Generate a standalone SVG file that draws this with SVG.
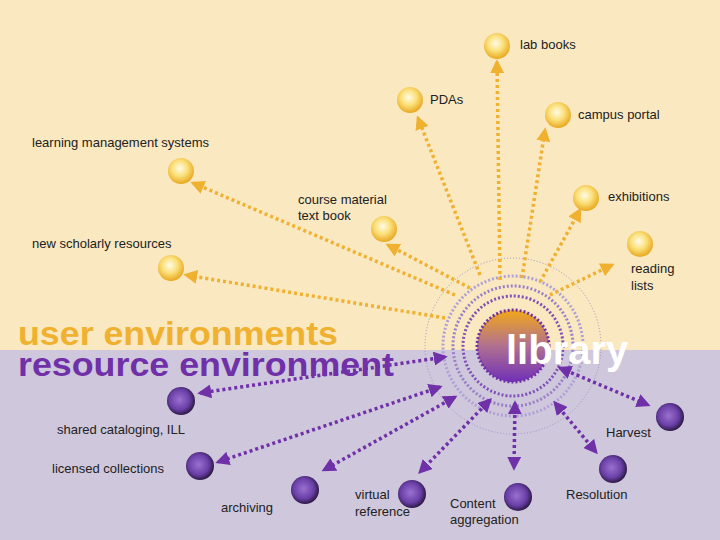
<svg xmlns="http://www.w3.org/2000/svg" width="720" height="540" viewBox="0 0 720 540">
<defs>
<radialGradient id="yg" cx="0.45" cy="0.4" r="0.6"><stop offset="0" stop-color="#fffbe8"/><stop offset="0.5" stop-color="#fbe07a"/><stop offset="1" stop-color="#e8a820"/></radialGradient>
<radialGradient id="pg" cx="0.45" cy="0.45" r="0.6"><stop offset="0" stop-color="#9a70d0"/><stop offset="0.6" stop-color="#6a40a8"/><stop offset="1" stop-color="#20102e"/></radialGradient>
<linearGradient id="lg" x1="0" y1="0" x2="0" y2="1"><stop offset="0" stop-color="#f2a818"/><stop offset="0.5" stop-color="#b07090"/><stop offset="1" stop-color="#7030b8"/></linearGradient>
<marker id="ay" viewBox="0 0 10 10" refX="8" refY="5" markerWidth="4" markerHeight="4" orient="auto-start-reverse"><path d="M0,0L10,5L0,10z" fill="#f0b030"/></marker>
<marker id="ap" viewBox="0 0 10 10" refX="8" refY="5" markerWidth="4" markerHeight="4" orient="auto-start-reverse"><path d="M0,0L10,5L0,10z" fill="#7030a8"/></marker>
<style>
.t{font-family:"Liberation Sans",Arial,sans-serif;font-size:13px;fill:#222}
.y{stroke:#f0b030;stroke-width:3.5;stroke-dasharray:3 3;fill:none;marker-end:url(#ay)}
.p{stroke:#7030a8;stroke-width:3.5;stroke-dasharray:3 3;fill:none;marker-end:url(#ap);marker-start:url(#ap)}
.yn{fill:url(#yg)}
.pn{fill:url(#pg)}
</style>
</defs>
<rect width="720" height="350" fill="#f9e8c0"/>
<rect y="350" width="720" height="190" fill="#cfc7dc"/>
<g id="rings" fill="none">
<circle cx="513" cy="346" r="88" stroke="#a090c8" stroke-width="1" stroke-dasharray="1 2"/>
<circle cx="513" cy="346" r="70" stroke="#b0a0d8" stroke-width="3" stroke-dasharray="2 2"/>
<circle cx="513" cy="346" r="60" stroke="#9a80c8" stroke-width="3" stroke-dasharray="2 2"/>
<circle cx="513" cy="346" r="50" stroke="#8050b8" stroke-width="3" stroke-dasharray="2 2"/>
</g>
<g id="connectors">
<path class="y" d="M500,280L497,62"/>
<path class="y" d="M480,275L418,118"/>
<path class="y" d="M522,278L545,130"/>
<path class="y" d="M455,295L193,183"/>
<path class="y" d="M470,288L388,245"/>
<path class="y" d="M540,282L580,210"/>
<path class="y" d="M445,318L186,275"/>
<path class="y" d="M550,295L612,265"/>
<path class="p" d="M445,357L200,393"/>
<path class="p" d="M440,387L218,462"/>
<path class="p" d="M455,397L324,470"/>
<path class="p" d="M490,400L420,472"/>
<path class="p" d="M515,403L514,468"/>
<path class="p" d="M555,403L596,452"/>
<path class="p" d="M560,368L648,405"/>
</g>
<g id="library">
<circle cx="513" cy="346" r="36" fill="url(#lg)" stroke="#7030a8" stroke-width="3" stroke-dasharray="2 2"/>
<text x="506" y="364" font-family="Liberation Sans,Arial,sans-serif" font-weight="bold" font-size="40" fill="#fff">library</text>
</g>
<g id="titles" font-family="Liberation Sans,Arial,sans-serif" font-weight="bold" font-size="33">
<text x="18" y="345" fill="#f0b030" textLength="320" lengthAdjust="spacingAndGlyphs">user environments</text>
<text x="18" y="376" fill="#7030a8" textLength="376" lengthAdjust="spacingAndGlyphs">resource environment</text>
</g>
<g id="lab-books"><circle class="yn" cx="497" cy="46" r="13"/><text class="t" x="520" y="49">lab books</text></g>
<g id="pdas"><circle class="yn" cx="410" cy="100" r="13"/><text class="t" x="430" y="104">PDAs</text></g>
<g id="campus-portal"><circle class="yn" cx="558" cy="115" r="13"/><text class="t" x="578" y="119">campus portal</text></g>
<g id="lms"><circle class="yn" cx="181" cy="171" r="13"/><text class="t" x="32" y="147">learning management systems</text></g>
<g id="course-material"><circle class="yn" cx="384" cy="229" r="13"/><text class="t" x="298" y="204">course material</text><text class="t" x="298" y="220">text book</text></g>
<g id="exhibitions"><circle class="yn" cx="586" cy="198" r="13"/><text class="t" x="608" y="201">exhibitions</text></g>
<g id="new-scholarly"><circle class="yn" cx="171" cy="268" r="13"/><text class="t" x="32" y="248">new scholarly resources</text></g>
<g id="reading-lists"><circle class="yn" cx="640" cy="244" r="13"/><text class="t" x="631" y="273">reading</text><text class="t" x="631" y="290">lists</text></g>
<g id="shared-cataloging"><circle class="pn" cx="181" cy="401" r="14"/><text class="t" x="57" y="434">shared cataloging, ILL</text></g>
<g id="licensed"><circle class="pn" cx="200" cy="466" r="14"/><text class="t" x="52" y="473">licensed collections</text></g>
<g id="archiving"><circle class="pn" cx="305" cy="490" r="14"/><text class="t" x="221" y="512">archiving</text></g>
<g id="virtual-reference"><circle class="pn" cx="412" cy="494" r="14"/><text class="t" x="355" y="499">virtual</text><text class="t" x="355" y="516">reference</text></g>
<g id="content-aggregation"><circle class="pn" cx="518" cy="497" r="14"/><text class="t" x="450" y="508">Content</text><text class="t" x="450" y="524">aggregation</text></g>
<g id="resolution"><circle class="pn" cx="613" cy="469" r="14"/><text class="t" x="566" y="499">Resolution</text></g>
<g id="harvest"><circle class="pn" cx="670" cy="417" r="14"/><text class="t" x="606" y="437">Harvest</text></g>
</svg>
